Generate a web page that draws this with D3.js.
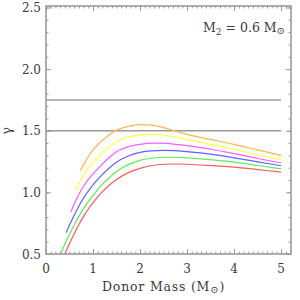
<!DOCTYPE html>
<html>
<head>
<meta charset="utf-8">
<script src="https://cdn.jsdelivr.net/npm/d3@7"></script>
<style>
  html, body { margin: 0; padding: 0; background: #fff; }
  svg { display: block; }
  text { font-family: "DejaVu Serif", "Liberation Serif", serif; fill: #3a3a3a; }
</style>
</head>
<body>
<div id="chart"></div>
<script>
/* gamma vs donor mass, M2 = 0.6 Msun */

const massRed = [0.40, 0.5, 0.6, 0.7, 0.8, 0.9, 1.0, 1.15, 1.32, 1.5, 1.75, 2.0, 2.25, 2.5, 2.75, 3.0, 3.5, 4.0, 4.5, 5.0];
const gammaRed = [0.50, 0.585, 0.665, 0.74, 0.805, 0.865, 0.915, 0.985, 1.05, 1.105, 1.16, 1.195, 1.218, 1.228, 1.23, 1.228, 1.218, 1.205, 1.185, 1.165];

const massGreen = [0.31, 0.4, 0.5, 0.6, 0.7, 0.8, 0.9, 1.0, 1.15, 1.32, 1.5, 1.75, 2.0, 2.25, 2.5, 2.75, 3.0, 3.5, 4.0, 4.5, 5.0];
const gammaGreen = [0.50, 0.58, 0.66, 0.735, 0.805, 0.87, 0.925, 0.975, 1.045, 1.11, 1.17, 1.225, 1.26, 1.277, 1.285, 1.285, 1.28, 1.265, 1.245, 1.218, 1.19];

const massBlue = [0.43, 0.5, 0.6, 0.7, 0.8, 0.9, 1.0, 1.15, 1.32, 1.5, 1.75, 2.0, 2.25, 2.5, 2.75, 3.0, 3.5, 4.0, 4.5, 5.0];
const gammaBlue = [0.675, 0.735, 0.815, 0.89, 0.955, 1.01, 1.06, 1.125, 1.19, 1.245, 1.295, 1.325, 1.337, 1.34, 1.338, 1.33, 1.31, 1.28, 1.248, 1.216];

const massMagenta = [0.53, 0.6, 0.7, 0.8, 0.9, 1.0, 1.15, 1.32, 1.5, 1.75, 2.0, 2.25, 2.5, 2.75, 3.0, 3.5, 4.0, 4.5, 5.0];
const gammaMagenta = [0.84, 0.905, 0.985, 1.05, 1.105, 1.15, 1.21, 1.275, 1.33, 1.37, 1.39, 1.40, 1.40, 1.39, 1.38, 1.35, 1.315, 1.275, 1.238];

const massYellow = [0.63, 0.7, 0.8, 0.9, 1.0, 1.15, 1.32, 1.5, 1.75, 2.0, 2.25, 2.5, 2.75, 3.0, 3.5, 4.0, 4.5, 5.0];
const gammaYellow = [1.013, 1.07, 1.14, 1.20, 1.245, 1.30, 1.36, 1.41, 1.45, 1.467, 1.472, 1.465, 1.45, 1.43, 1.39, 1.35, 1.305, 1.265];

const massOrange = [0.73, 0.8, 0.9, 1.0, 1.15, 1.32, 1.5, 1.75, 2.0, 2.25, 2.5, 2.75, 3.0, 3.5, 4.0, 4.5, 5.0];
const gammaOrange = [1.175, 1.225, 1.29, 1.345, 1.405, 1.46, 1.505, 1.535, 1.549, 1.545, 1.525, 1.497, 1.47, 1.43, 1.39, 1.345, 1.30];

const seriesColors = ['#ff5a5a', '#5aef5a', '#6262ff', '#ff5cff', '#ffff4a', '#ffb551'];
const refLines = [1.75, 1.5];
const refEnd = 5.0;
const xTicks = [0, 1, 2, 3, 4, 5];
const yTicks = [0.5, 1.0, 1.5, 2.0, 2.5];

const W = 300, H = 300;
const m = { t: 6, r: 9, b: 46, l: 46 };
const w = W - m.l - m.r, h = H - m.t - m.b;

const svg = d3.select('#chart').append('svg').attr('width', W).attr('height', H);
const g = svg.append('g').attr('transform', `translate(${m.l},${m.t})`);

const x = d3.scaleLinear().domain([0, 5.21]).range([0, w]);
const y = d3.scaleLinear().domain([0.5, 2.512]).range([h, 0]);

const axisCol = '#9a9a9a';

/* reference lines */
refLines.forEach(v => {
  g.append('line')
    .attr('x1', x(0)).attr('x2', x(refEnd))
    .attr('y1', y(v)).attr('y2', y(v))
    .attr('stroke', axisCol).attr('stroke-width', 1.5);
});

/* curves */
const series = [
  [massRed, gammaRed], [massGreen, gammaGreen], [massBlue, gammaBlue],
  [massMagenta, gammaMagenta], [massYellow, gammaYellow], [massOrange, gammaOrange]
];
const line = d3.line().x(d => x(d[0])).y(d => y(d[1])).curve(d3.curveMonotoneX);
series.forEach(([ms, gs], i) => {
  const pts = ms.map((v, j) => [v, gs[j]]);
  g.append('path').datum(pts)
    .attr('fill', 'none').attr('stroke', seriesColors[i])
    .attr('stroke-width', 1.2).attr('d', line);
});

/* frame + ticks */
const minorX = d3.range(0, 5.21, 0.1), minorY = d3.range(0.5, 2.51, 0.1);
function ticks(axisGen, scale, vals, len, transform) {
  g.append('g').attr('transform', transform)
    .call(axisGen(scale).tickValues(vals).tickSize(len).tickFormat(''))
    .call(s => s.select('.domain').remove())
    .call(s => s.selectAll('line').attr('stroke', axisCol).attr('stroke-width', 1));
}
ticks(d3.axisTop, x, minorX, 2.5, `translate(0,${h})`);
ticks(d3.axisTop, x, xTicks, 5, `translate(0,${h})`);
ticks(d3.axisBottom, x, minorX, 2.5, 'translate(0,0)');
ticks(d3.axisBottom, x, xTicks, 5, 'translate(0,0)');
ticks(d3.axisRight, y, minorY, 2.5, 'translate(0,0)');
ticks(d3.axisRight, y, yTicks, 5, 'translate(0,0)');
ticks(d3.axisLeft, y, minorY, 2.5, `translate(${w},0)`);
ticks(d3.axisLeft, y, yTicks, 5, `translate(${w},0)`);

g.append('rect').attr('width', w).attr('height', h)
  .attr('fill', 'none').attr('stroke', axisCol).attr('stroke-width', 1.6);

/* tick labels */
xTicks.forEach(v => {
  g.append('text').attr('x', x(v)).attr('y', h + 19)
    .attr('text-anchor', 'middle').attr('font-size', 12).text(v);
});
yTicks.forEach(v => {
  g.append('text').attr('x', -5).attr('y', y(v) + 4.5)
    .attr('text-anchor', 'end').attr('font-size', 12).text(v.toFixed(1));
});

/* axis titles */
const xt = svg.append('text').attr('x', m.l + x(2.5)).attr('y', 291)
  .attr('text-anchor', 'middle').attr('font-size', 12.5).attr('letter-spacing', 0.8);
xt.append('tspan').text('Donor Mass (M');
xt.append('tspan').attr('font-size', 10).attr('dy', 2).text('⊙');
xt.append('tspan').attr('dy', -2).text(')');

svg.append('text')
  .attr('transform', `translate(11,${m.t + y(1.5)}) rotate(-90)`)
  .attr('text-anchor', 'middle').attr('font-size', 13).text('γ');

/* annotation */
const ann = svg.append('text').attr('x', 285).attr('y', 32)
  .attr('text-anchor', 'end').attr('font-size', 12.5);
ann.append('tspan').text('M');
ann.append('tspan').attr('font-size', 9).attr('dy', 3).text('2');
ann.append('tspan').attr('dy', -3).text(' = 0.6 M');
ann.append('tspan').attr('font-size', 10).attr('dy', 2).text('⊙');
</script>
</body>
</html>
